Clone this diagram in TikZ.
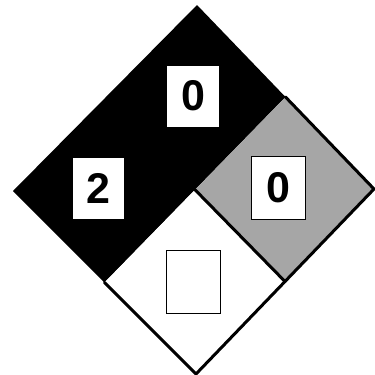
\documentclass[tikz,border=0pt]{standalone}
\usepackage{fontspec}
\setmainfont{Liberation Sans}
\usetikzlibrary{calc}
\begin{document}
\begin{tikzpicture}[x=1pt,y=-1pt,
  edge/.style={line width=3pt,line cap=round,line join=miter},
  numbox/.style={fill=white,inner sep=0pt,font=\fontsize{43}{43}\selectfont\bfseries},
  framedbox/.style={numbox,draw=black,line width=1.6pt}]
\useasboundingbox (0,0) rectangle (375,375);
\fill[white] (0,0) rectangle (375,375);
\coordinate (T) at (197,5);
\coordinate (L) at (13,191);
\coordinate (R) at (374,189);
\coordinate (B) at (196,374);
\coordinate (TR) at ($(T)!0.5!(R)$);
\coordinate (LB) at ($(L)!0.5!(B)$);
\coordinate (RB) at ($(R)!0.5!(B)$);
\coordinate (C) at ($(TR)!0.5!(LB)$);
% black (top + left quadrants)
\fill[black] (T) -- (L) -- (LB) -- (C) -- (TR) -- cycle;
% gray (right quadrant)
\fill[black!35] (TR) -- (R) -- (RB) -- (C) -- cycle;
% white (bottom quadrant)
\fill[white] (C) -- (RB) -- (B) -- (LB) -- cycle;
% outlines
\draw[edge] (TR) -- (R) -- (B) -- (LB);
\draw[edge] (C) -- (RB);
% boxes
\node[numbox,minimum width=52,minimum height=61] (top) at (193,96) {0};
\node[numbox,minimum width=51,minimum height=61] (left) at (98.5,188.5) {2};
\node[framedbox,minimum width=54,minimum height=63] (right) at (278.5,188) {0};
\node[framedbox,minimum width=54,minimum height=63] (bottom) at (193.5,282) {};
\end{tikzpicture}
\end{document}
